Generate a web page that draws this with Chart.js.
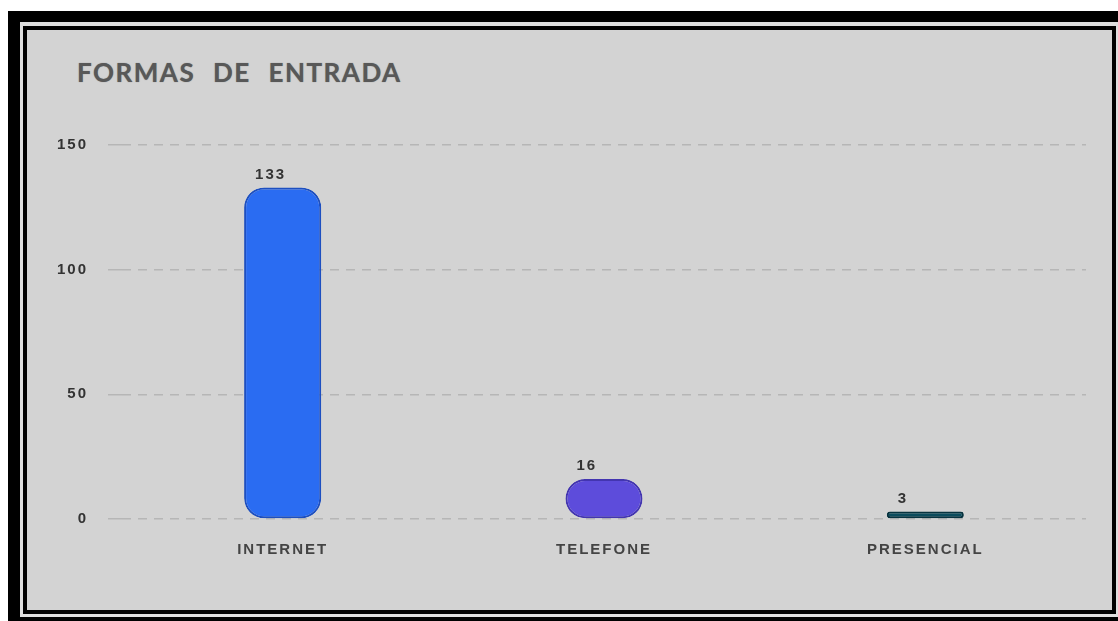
<!DOCTYPE html>
<html>
<head>
<meta charset="utf-8">
<script src="https://cdn.jsdelivr.net/npm/chart.js@4.4.0/dist/chart.umd.min.js"></script>
<style>
  body { margin: 0; background: #fff; width: 1118px; height: 621px; overflow: hidden; position: relative; }
  #borda { position: absolute; left: 8px; top: 11px; width: 1200px; height: 700px; background: #000; }
  #vao { position: absolute; left: 20px; top: 22px; width: 1110px; height: 595px; background: #dedede; }
  #painel { position: absolute; left: 23px; top: 26px; width: 1093px; height: 588px; box-sizing: border-box; border: 4px solid #000; background: #d3d3d3; }
  #titulo { position: absolute; left: 77px; top: 56px; font-family: Lato, sans-serif; font-weight: bold; font-size: 26px; letter-spacing: 1.5px; word-spacing: 10px; color: #585858; text-shadow: 0 0 1px #777; }
  #grafico { position: absolute; left: 0; top: 0; }
</style>
</head>
<body>
<div id="borda"></div>
<div id="vao"></div>
<div id="painel"></div>
<div id="titulo">FORMAS DE ENTRADA</div>
<canvas id="grafico" width="1118" height="621"></canvas>
<script>
// Dados do gráfico
const formas = ["INTERNET", "TELEFONE", "PRESENCIAL"];
const quantidades = [133, 16, 3];
const coresBarra = ["#2a6cf2", "#5d4cdb", "#0b4c5d"];
const coresBorda = ["#1d4fc0", "#4335b0", "#06323e"];
const ticksY = [0, 50, 100, 150];

// Espaçamento entre letras como na imagem
const espacamento = {
    id: "espacamento",
    beforeDraw(chart) {
        chart.ctx.letterSpacing = "2px";
    }
};

// Rótulos acima das barras
const rotulos = {
    id: "rotulos",
    afterDatasetsDraw(chart) {
        const ctx = chart.ctx;
        const meta = chart.getDatasetMeta(0);
        ctx.save();
        ctx.letterSpacing = "2px";
        ctx.font = "bold 15px 'Liberation Sans', Arial, sans-serif";
        ctx.fillStyle = "#333";
        ctx.textAlign = "left";
        ctx.textBaseline = "middle";
        meta.data.forEach((barra, i) => {
            ctx.fillText(String(quantidades[i]), barra.x - barra.width / 2 + 11, barra.y - 13);
        });
        ctx.restore();
    }
};

const ctx = document.getElementById("grafico").getContext("2d");

new Chart(ctx, {
    type: "bar",
    data: {
        labels: formas,
        datasets: [{
            data: quantidades,
            backgroundColor: coresBarra,
            borderColor: coresBorda,
            borderWidth: 2,
            borderRadius: 20,
            borderSkipped: false,
            barPercentage: 0.24,
            categoryPercentage: 1,
        }],
    },
    options: {
        responsive: false,
        animation: false,
        layout: {
            padding: { left: 22, right: 32, top: 145, bottom: 42 }
        },
        plugins: {
            legend: { display: false },
            tooltip: { enabled: false },
        },
        scales: {
            x: {
                afterFit: (escala) => { escala.height = 60; },
                grid: { display: false, drawTicks: false },
                border: { display: false },
                ticks: {
                    padding: 22,
                    color: "#444",
                    font: { family: "'Liberation Sans', Arial, sans-serif", size: 15, weight: "bold" },
                },
            },
            y: {
                min: 0,
                max: 150,
                afterFit: (escala) => { escala.width = 100; },
                afterBuildTicks: (escala) => { escala.ticks = ticksY.map(v => ({ value: v })); },
                border: { display: false, dash: [9, 7] },
                grid: {
                    color: "#b6b6b6",
                    lineWidth: 1.5,
                    tickLength: 14,
                },
                ticks: {
                    padding: 20,
                    color: "#333",
                    font: { family: "'Liberation Sans', Arial, sans-serif", size: 15, weight: "bold" },
                },
            },
        },
    },
    plugins: [espacamento, rotulos],
});
</script>
</body>
</html>
